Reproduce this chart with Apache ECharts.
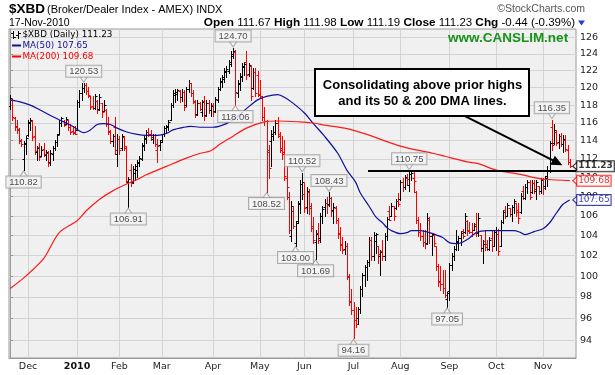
<!DOCTYPE html>
<html>
<head>
<meta charset="utf-8">
<title>$XBD Broker/Dealer Index</title>
<script src="https://cdn.jsdelivr.net/npm/echarts@6/dist/echarts.min.js"></script>
<style>
html,body{margin:0;padding:0;background:#ffffff;}
#chart{width:615px;height:375px;}
</style>
</head>
<body>
<div id="chart"></div>
<script>
// ---------------- categories (trading days) ----------------
const months = ['2009-11','2009-12','2010-01','2010-02','2010-03','2010-04','2010-05','2010-06','2010-07','2010-08','2010-09','2010-10','2010-11'];
const monthTickLabels = ['', 'Dec', '2010', 'Feb', 'Mar', 'Apr', 'May', 'Jun', 'Jul', 'Aug', 'Sep', 'Oct', 'Nov'];
const tradingDays = [
  [18,19,20,23,24,25,27,30],
  [1,2,3,4,7,8,9,10,11,14,15,16,17,18,21,22,23,24,28,29,30,31],
  [4,5,6,7,8,11,12,13,14,15,19,20,21,22,25,26,27,28,29],
  [1,2,3,4,5,8,9,10,11,12,16,17,18,19,22,23,24,25,26],
  [1,2,3,4,5,8,9,10,11,12,15,16,17,18,19,22,23,24,25,26,29,30,31],
  [1,5,6,7,8,9,12,13,14,15,16,19,20,21,22,23,26,27,28,29,30],
  [3,4,5,6,7,10,11,12,13,14,17,18,19,20,21,24,25,26,27,28],
  [1,2,3,4,7,8,9,10,11,14,15,16,17,18,21,22,23,24,25,28,29,30],
  [1,2,6,7,8,9,12,13,14,15,16,19,20,21,22,23,26,27,28,29,30],
  [2,3,4,5,6,9,10,11,12,13,16,17,18,19,20,23,24,25,26,27,30,31],
  [1,2,3,7,8,9,10,13,14,15,16,17,20,21,22,23,24,27,28,29,30],
  [1,4,5,6,7,8,11,12,13,14,15,18,19,20,21,22,25,26,27,28,29],
  [1,2,3,4,5,8,9,10,11,12,15,16,17]
];

// ---------------- daily OHLC ($XBD) ----------------
const open = [
117.9,118.6,116.5,115.6,115.3,114.1,112.0,113.6,114.6,116.1,
116.2,114.5,112.8,113.3,112.3,113.1,112.4,112.7,111.7,112.6,
113.2,113.9,114.8,116.0,116.2,115.9,116.3,115.5,115.1,115.0,
115.2,118.3,119.4,120.0,120.3,119.6,119.0,117.9,117.7,118.5,
117.5,118.2,117.3,117.4,115.9,115.0,114.0,115.5,112.5,114.2,
113.2,114.4,113.2,109.5,110.8,109.5,110.5,110.8,111.6,112.0,
113.4,114.2,115.0,114.8,114.2,114.6,113.0,113.5,114.1,114.7,
115.4,115.5,116.3,118.0,119.2,119.3,119.6,118.9,119.5,118.0,
119.8,120.5,119.4,118.4,117.0,118.2,117.2,118.5,116.9,118.2,
117.4,118.0,117.3,118.6,119.9,120.7,121.0,121.9,122.0,122.8,
123.8,124.2,119.4,120.4,121.2,122.4,123.0,121.6,122.6,120.0,
121.8,121.5,119.3,118.8,116.6,116.2,112.8,114.0,114.5,115.0,
116.0,114.5,113.0,112.8,110.0,108.0,104.0,106.5,103.3,105.5,
107.3,109.3,108.3,106.9,108.5,106.8,105.0,103.4,104.3,103.8,
106.0,106.9,107.3,107.2,107.9,106.6,106.8,105.6,104.3,103.2,
102.7,103.0,99.9,97.6,96.8,95.8,96.0,96.9,98.8,100.1,
100.9,101.4,103.6,102.0,103.5,103.0,102.0,102.5,102.0,104.0,
106.5,106.0,107.0,106.8,107.5,107.8,109.5,109.0,110.0,109.2,
110.4,110.0,108.5,105.6,104.4,104.0,103.4,103.3,105.6,104.0,
104.1,103.0,101.0,99.5,99.2,98.9,97.8,98.6,101.1,102.0,
102.7,103.5,103.8,104.5,104.4,105.5,104.6,104.4,104.6,105.2,
104.3,104.1,102.8,103.5,103.2,102.7,103.8,103.0,104.4,104.2,
103.0,105.4,106.6,106.0,106.8,106.2,106.9,107.3,106.6,106.4,
108.6,107.9,109.0,109.5,108.5,109.4,108.6,109.1,108.6,109.9,
109.1,110.2,110.8,115.5,113.8,115.0,113.9,114.5,113.6,114.1,
113.0,111.67];
const high = [
119.2,118.7,116.7,116.3,115.4,114.2,114.0,114.5,116.3,116.5,
116.3,115.6,113.4,113.7,113.4,113.7,113.0,112.9,113.0,113.4,
114.1,114.8,116.3,116.7,116.3,116.7,116.3,115.9,115.6,115.6,
118.6,119.7,120.5,120.53,120.5,120.1,119.0,119.0,119.3,118.6,
119.3,118.2,118.6,117.5,116.7,115.2,114.8,116.7,114.8,114.5,
114.8,114.5,113.4,110.1,111.5,111.2,111.5,111.9,112.3,113.7,
114.5,115.2,115.4,115.2,114.8,114.8,114.2,114.1,114.8,115.6,
115.8,116.3,118.2,119.7,119.8,119.9,119.7,119.8,119.7,120.1,
120.9,120.6,119.7,118.6,118.6,118.4,118.6,119.0,118.6,118.6,
118.2,118.2,118.9,120.1,121.1,121.5,122.3,122.5,123.3,124.3,
124.70,124.5,120.9,121.7,122.9,123.0,124.3,122.9,122.6,122.3,
122.3,122.0,120.9,119.0,117.8,116.3,113.5,115.2,115.6,116.3,
116.7,115.0,114.5,114.1,111.2,108.5,107.5,107.0,105.5,107.5,
109.8,110.52,109.4,109.0,108.8,107.3,105.9,104.6,105.3,106.3,
107.0,107.7,108.0,108.43,108.0,107.3,107.0,105.8,104.9,103.9,
103.5,103.3,100.2,98.8,97.5,97.1,97.1,99.0,100.3,101.1,
101.6,103.9,103.9,104.4,104.3,103.0,102.6,103.6,104.3,105.9,
107.0,107.3,107.0,107.7,108.4,109.8,110.0,110.3,110.4,110.75,
110.7,110.6,108.6,105.9,105.3,104.6,104.6,106.3,105.9,104.3,
104.2,103.0,101.2,101.0,100.6,100.6,98.5,101.3,102.3,103.0,
104.6,104.0,104.5,104.7,106.3,105.6,105.4,105.3,105.3,106.3,
106.3,104.1,103.6,104.6,103.6,103.9,104.6,104.6,104.9,104.7,
105.6,106.6,107.0,107.3,106.8,107.1,107.7,107.3,107.3,108.4,
109.1,109.3,109.8,109.8,109.8,109.8,109.8,109.1,110.0,110.0,
110.2,111.2,114.0,116.35,115.9,115.2,114.8,114.9,114.6,114.6,
113.5,111.98];
const low = [
117.6,116.3,115.2,114.9,113.7,113.4,110.82,112.6,114.5,115.2,
114.1,112.6,111.9,111.9,112.3,112.3,111.9,111.2,111.3,111.9,
113.0,113.4,114.8,115.6,115.6,115.9,115.2,114.8,114.8,114.7,
115.2,117.8,118.6,119.5,119.3,118.9,117.5,117.6,117.5,117.1,
117.4,116.7,117.3,115.6,114.8,113.7,113.4,112.6,111.2,112.6,
113.0,113.0,109.5,106.91,109.1,109.4,109.8,110.1,111.2,111.9,
113.0,113.7,114.5,114.1,113.7,113.4,111.7,113.0,113.9,114.5,
114.9,115.2,116.3,117.8,118.4,118.6,118.4,118.5,117.4,117.9,
119.5,119.1,118.2,116.6,116.9,117.4,116.8,116.3,116.8,117.1,
116.8,116.8,117.2,118.3,119.7,120.1,120.7,121.3,121.7,122.5,
123.5,118.06,118.9,119.7,120.8,121.5,121.0,121.4,118.6,119.8,
119.0,119.0,118.9,116.3,115.8,108.52,110.0,111.2,114.1,114.8,
114.4,112.8,112.0,109.8,107.7,104.3,103.5,104.8,103.00,105.3,
106.3,107.7,106.4,106.3,106.2,104.5,103.3,101.69,103.3,103.4,
105.3,106.0,106.3,107.0,106.0,105.3,105.3,103.8,102.6,102.3,
102.2,99.7,97.2,96.4,94.16,95.2,95.5,96.5,98.1,99.0,
99.65,101.0,101.6,101.6,102.3,101.3,100.1,101.6,101.6,103.6,
105.6,106.0,105.6,106.7,107.0,107.6,108.6,108.8,109.2,108.6,
109.8,108.5,105.3,104.0,103.6,103.0,102.8,103.2,103.3,102.1,
103.0,100.6,99.0,98.7,98.4,98.0,97.05,97.75,100.6,101.6,
102.6,102.6,103.1,103.8,104.3,104.1,104.3,104.0,104.6,104.0,
104.0,102.5,101.3,102.6,102.6,102.6,102.5,103.0,102.6,102.1,
103.0,105.3,105.8,106.0,106.0,105.5,106.3,106.0,105.3,106.3,
107.7,107.7,108.4,107.7,108.4,108.4,107.7,108.3,108.4,108.3,
108.8,109.1,110.6,113.0,113.6,113.5,113.2,113.4,112.8,112.9,
111.5,111.19];
const close = [
118.8,116.6,115.5,115.2,114.0,113.6,113.8,114.3,116.0,116.3,
114.4,112.9,113.2,112.2,113.0,112.5,112.8,111.6,112.7,113.2,
113.9,114.6,116.0,116.5,115.8,116.4,115.5,115.0,114.9,114.8,
118.4,119.4,120.0,120.3,119.6,119.2,117.8,117.7,119.0,117.4,
118.9,117.2,118.0,115.9,115.1,114.0,114.5,113.0,114.2,113.0,
114.5,113.4,109.6,109.9,109.4,110.9,111.2,111.7,112.1,113.5,
114.3,115.0,114.7,114.4,114.6,113.6,113.4,113.9,114.7,115.4,
115.6,116.1,118.0,119.4,119.5,119.7,118.9,119.5,117.8,119.8,
120.6,119.4,118.5,116.9,118.2,117.6,118.3,116.8,118.2,117.4,
117.9,117.2,118.7,119.9,120.8,121.2,122.0,122.2,123.0,124.0,
124.3,119.5,120.6,121.4,122.6,122.8,121.5,122.7,119.0,121.8,
119.4,119.2,119.1,116.6,116.2,113.0,111.0,114.8,115.0,116.0,
114.8,113.2,112.5,110.2,109.0,104.6,107.0,105.0,105.3,107.2,
109.3,109.5,106.8,108.6,107.0,104.8,103.6,104.2,103.6,106.0,
106.7,107.3,107.1,107.9,106.5,106.9,105.6,104.2,103.1,102.6,
103.0,100.0,97.5,96.8,95.8,95.5,96.9,98.8,100.1,100.9,
101.4,103.6,102.0,104.1,104.2,102.2,102.4,102.0,104.0,105.7,
105.6,107.0,106.0,107.5,107.2,109.5,109.0,110.1,109.9,110.4,
110.5,109.6,105.6,104.4,104.0,103.4,103.2,105.8,104.0,104.2,
103.3,101.0,99.4,99.2,98.9,98.2,98.4,101.1,102.0,102.7,
103.4,103.8,104.3,104.0,106.0,104.5,104.4,104.2,105.0,104.3,
105.8,102.8,103.2,102.9,102.7,103.6,103.0,104.4,104.6,102.5,
105.4,106.4,106.0,107.1,106.2,106.9,107.5,106.4,105.8,108.1,
107.9,109.0,109.5,108.0,109.4,108.8,109.5,108.6,109.7,108.9,
110.0,110.8,113.8,113.5,115.2,113.8,114.5,113.6,114.2,113.1,
111.67,111.23];

// ---------------- moving averages (read at sample days) ----------------
const ma50Idx = [0,4,9,13,19,24,28,31,33,36,39,42,45,48,52,57,61,66,70,73,78,81,85,91,97,102,106,111,115,120,123,127,132,136,141,147,151,155,157,161,164,167,169,171,175,178,180,184,188,194,197,201,205,209,214,220,226,229,231,235,239,242,245,248,251];
const ma50Val = [118.6,118.4,118.0,117.5,116.7,116.1,115.6,115.1,114.9,115.2,115.8,115.9,115.8,115.4,115.0,114.7,114.6,114.6,114.8,115.2,115.5,115.6,115.5,115.5,115.9,116.7,117.6,118.6,119.0,119.2,118.9,118.2,117.1,115.9,114.5,112.6,110.8,109.5,108.4,107.0,105.9,105.3,104.8,104.5,104.2,104.3,104.5,104.5,104.3,103.8,103.3,103.2,103.6,104.3,104.5,104.5,104.5,104.3,104.1,104.4,104.7,105.3,106.3,107.2,107.65];
const ma200Idx = [0,7,15,22,30,34,40,46,52,57,61,70,79,85,90,94,100,106,114,120,130,135,142,150,160,169,175,180,190,195,205,210,218,225,230,235,241,251];
const ma200Val = [98.8,100.0,101.7,104.3,105.5,106.5,107.7,108.6,109.3,109.8,110.3,111.2,112.1,112.6,112.9,113.6,114.5,115.4,116.1,116.2,116.1,116.0,115.7,115.4,114.7,113.9,113.4,113.1,112.6,112.3,111.7,111.5,110.8,110.5,110.3,110.0,109.8,109.68];

// ---------------- axis ticks and annotations ----------------
const yTicks = [94,96,98,100,102,104,106,108,110,112,114,116,118,120,122,124,126];
const noteIdx = [6,33,53,100,101,115,128,131,137,143,154,179,196,243];
const noteVal = [110.82,120.53,106.91,124.70,118.06,108.52,103.00,110.52,101.69,108.43,94.16,110.75,97.05,116.35];
const notePos = ['below','above','below','above','below','below','below','above','below','above','below','above','below','above'];
const priorHigh = 110.75;
const priorHighFrom = 160.5;
const calloutFrom = [204, 116.76];
const calloutTo = [245.5, 111.6];
const calloutLines = ['Consolidating above prior highs', 'and its 50 & 200 DMA lines.'];

// ---------------- build ----------------
const T = v => Math.log(v);
const dates = [], monthStart = [], monthStartLabel = [];
months.forEach((m, k) => {
  tradingDays[k].forEach((d, j) => {
    if (j === 0 && monthTickLabels[k]) { monthStart.push(dates.length); monthStartLabel.push(monthTickLabels[k]); }
    dates.push(m + '-' + String(d).padStart(2, '0'));
  });
});
const N = dates.length;
const X_MIN = -0.523, X_MAX = 253.8;
const Y_MIN = T(92.38), Y_MAX = T(127.02);

const ohlc = dates.map((d, i) => [
  i, T(open[i]), T(high[i]), T(low[i]), T(close[i]),
  i === 0 ? (close[i] >= open[i] ? 1 : 0) : (close[i] >= close[i - 1] ? 1 : 0)
]);

const lastClose = close[N - 1], prevClose = close[N - 2];
const chg = lastClose - prevClose;
const chgPct = chg / prevClose * 100;
const ma50Last = ma50Val[ma50Val.length - 1];
const ma200Last = ma200Val[ma200Val.length - 1];
const monNames = ['Jan','Feb','Mar','Apr','May','Jun','Jul','Aug','Sep','Oct','Nov','Dec'];
const lastDateParts = dates[N - 1].split('-');
const lastDateStr = lastDateParts[2] + '-' + monNames[+lastDateParts[1] - 1] + '-' + lastDateParts[0];

const SANS = 'Liberation Sans';
const VER = 'DejaVu Sans';
const NAVY = '#10109a';

const chart = echarts.init(document.getElementById('chart'), null, {renderer: 'canvas'});

function vtext(x, y, text, font, fill, align, z) {
  return {type: 'text', x: x, y: y, z: z || 10, style: {text: text, font: font, fill: fill,
    align: align || 'left', textAlign: align || 'left', verticalAlign: 'middle', textVerticalAlign: 'middle'}};
}
function seg(x1, y1, x2, y2) {
  return {type: 'line', z: 10, shape: {x1: x1, y1: y1, x2: x2, y2: y2}, style: {stroke: '#000', lineWidth: 1}};
}

const option = {
  animation: false,
  backgroundColor: '#ffffff',
  grid: {
    left: 9, right: 39, top: 29, bottom: 17,
    show: true, backgroundColor: '#f0f0f0', borderColor: '#9a9a9a', borderWidth: 1,
    containLabel: false, outerBoundsMode: 'none'
  },
  xAxis: {
    type: 'value', min: X_MIN, max: X_MAX,
    axisLine: {show: true, onZero: false, lineStyle: {color: '#9a9a9a'}},
    axisTick: {show: false, customValues: monthStart},
    axisLabel: {
      customValues: monthStart, margin: 4,
      fontFamily: VER, fontSize: 9.5, color: '#222',
      formatter: v => {
        const k = monthStart.indexOf(Math.round(v));
        const s = k >= 0 ? monthStartLabel[k] : '';
        return /^\d{4}$/.test(s) ? '{y|' + s + '}' : s;
      },
      rich: {y: {fontFamily: VER, fontSize: 9.5, fontWeight: 'bold', color: '#111'}}
    },
    splitLine: {show: true, lineStyle: {color: '#d4d4d4', width: 1}}
  },
  yAxis: {
    type: 'value', position: 'right', min: Y_MIN, max: Y_MAX,
    axisLine: {show: true, lineStyle: {color: '#9a9a9a'}},
    axisTick: {show: true, length: 3, customValues: yTicks.map(T), lineStyle: {color: '#9a9a9a'}},
    axisLabel: {
      customValues: yTicks.map(T), margin: 4,
      fontFamily: VER, fontSize: 9.5, color: '#222',
      formatter: v => String(Math.round(Math.exp(v)))
    },
    splitLine: {show: true, lineStyle: {color: '#d4d4d4', width: 1}}
  },
  series: [
    {
      type: 'custom', name: '$XBD (Daily)', data: ohlc, z: 2, clip: true, silent: true,
      encode: {x: 0, y: [1, 2, 3, 4]},
      renderItem: (params, api) => {
        const i = api.value(0);
        const h = api.coord([i, api.value(2)]);
        const l = api.coord([i, api.value(3)]);
        const o = api.coord([i, api.value(1)]);
        const c = api.coord([i, api.value(4)]);
        const col = api.value(5) ? '#000000' : '#ff0000';
        const x = Math.round(h[0]) + 0.5;
        const oy = Math.round(o[1]) + 0.5, cy = Math.round(c[1]) + 0.5;
        return {
          type: 'group',
          children: [
            {type: 'line', shape: {x1: x, y1: Math.round(h[1]), x2: x, y2: Math.round(l[1]) + 1}, style: {stroke: col, lineWidth: 1}},
            {type: 'line', shape: {x1: x - 2, y1: oy, x2: x, y2: oy}, style: {stroke: col, lineWidth: 1}},
            {type: 'line', shape: {x1: x, y1: cy, x2: x + 2, y2: cy}, style: {stroke: col, lineWidth: 1}}
          ]
        };
      },
      markLine: {
        silent: true, animation: false,
        symbol: ['none', 'none'],
        label: {show: false},
        data: [
          [
            {coord: [priorHighFrom, T(priorHigh)], lineStyle: {color: '#000', width: 2, type: 'solid'}},
            {coord: [X_MAX, T(priorHigh)]}
          ],
          [
            {coord: [calloutFrom[0], T(calloutFrom[1])], lineStyle: {color: '#000', width: 2, type: 'solid'}, symbol: 'none'},
            {coord: [calloutTo[0], T(calloutTo[1])], symbol: 'triangle', symbolSize: [10, 11]}
          ]
        ]
      }
    },
    {
      type: 'line', name: 'MA(50)', data: ma50Idx.map((i, k) => [i, T(ma50Val[k])]),
      smooth: 0.3, showSymbol: false, symbol: 'none', silent: true, z: 3,
      lineStyle: {color: NAVY, width: 1.2}
    },
    {
      type: 'line', name: 'MA(200)', data: ma200Idx.map((i, k) => [i, T(ma200Val[k])]),
      smooth: 0.3, showSymbol: false, symbol: 'none', silent: true, z: 3,
      lineStyle: {color: '#ff1a1a', width: 1.2}
    },
    {
      type: 'scatter', name: 'notes', silent: true, z: 6, clip: false,
      symbol: 'triangle', symbolSize: [8, 6],
      itemStyle: {color: '#f6f6f6', borderColor: '#9a9a9a', borderWidth: 1},
      data: noteIdx.map((i, k) => ({
        value: [i, T(noteVal[k])],
        symbolRotate: notePos[k] === 'above' ? 180 : 0,
        symbolOffset: [0, notePos[k] === 'above' ? -4 : 4],
        label: {position: notePos[k] === 'above' ? 'top' : 'bottom'}
      })),
      label: {
        show: true, distance: -1,
        formatter: p => noteVal[p.dataIndex].toFixed(2),
        fontFamily: SANS, fontSize: 9.5, color: '#222', lineHeight: 10,
        backgroundColor: '#f6f6f6', borderColor: '#9a9a9a', borderWidth: 1, padding: [1, 3, 0, 3]
      }
    },
    {
      type: 'scatter', name: 'tags', silent: true, z: 7, clip: false,
      symbol: 'path://M10,0 L0,5 L10,10 Z', symbolSize: [5, 9], symbolOffset: [5.5, 0],
      data: [
        {value: [N - 1, T(lastClose)], itemStyle: {color: '#fff', borderColor: '#000', borderWidth: 1},
         label: {formatter: lastClose.toFixed(2), color: '#000', fontWeight: 'bold', borderColor: '#000'}},
        {value: [N - 1, T(ma200Last)], itemStyle: {color: '#fff', borderColor: '#ff0000', borderWidth: 1},
         label: {formatter: ma200Last.toFixed(2), color: '#d80000', borderColor: '#ff0000'}},
        {value: [N - 1, T(ma50Last)], itemStyle: {color: '#fff', borderColor: NAVY, borderWidth: 1},
         label: {formatter: ma50Last.toFixed(2), color: NAVY, borderColor: NAVY}}
      ],
      label: {
        show: true, position: 'right', distance: -1,
        fontFamily: VER, fontSize: 9, lineHeight: 9,
        backgroundColor: '#fff', borderWidth: 1, padding: [1, 1, 0, 1]
      }
    }
  ],
  graphic: {
    elements: [
      vtext(9, 9, '$XBD', 'bold 13.5px "' + SANS + '"', '#000'),
      vtext(47, 9.5, '(Broker/Dealer Index - AMEX) INDX', '11px "' + SANS + '"', '#000'),
      vtext(585, 9.5, '\u00A9StockCharts.com', '10.5px "' + SANS + '"', '#555', 'right'),
      vtext(9, 23, lastDateStr, '10.5px "' + SANS + '"', '#000'),
      {type: 'text', x: 575, y: 23, z: 10, style: {
        text: '{b|Open} ' + open[N-1].toFixed(2) + ' {b|High} ' + high[N-1].toFixed(2) + ' {b|Low} ' + low[N-1].toFixed(2) +
              ' {b|Close} ' + lastClose.toFixed(2) + ' {b|Chg} ' + chg.toFixed(2) + ' (' + chgPct.toFixed(2) + '%)',
        font: '11.5px "' + SANS + '"', fill: '#000', align: 'right', textAlign: 'right', verticalAlign: 'middle', textVerticalAlign: 'middle',
        rich: {b: {fontFamily: SANS, fontSize: 11.8, fontWeight: 'bold', fill: '#000'}}
      }},
      {type: 'polygon', z: 10, shape: {points: [[578, 20.5], [585, 20.5], [581.5, 25.5]]}, style: {fill: '#1f3fd6'}},
      // legend icon (mini OHLC bars)
      seg(13.5, 31, 13.5, 39), seg(11, 33.5, 13.5, 33.5), seg(13.5, 37.5, 16, 37.5),
      seg(18.5, 31, 18.5, 39), seg(16, 35.5, 18.5, 35.5), seg(18.5, 33.5, 21, 33.5),
      vtext(22.5, 35, '$XBD (Daily) ' + lastClose.toFixed(2), '8.8px "' + VER + '"', '#000'),
      {type: 'rect', z: 10, shape: {x: 12, y: 44.5, width: 9, height: 2}, style: {fill: NAVY}},
      vtext(22.5, 45.8, 'MA(50) ' + ma50Last.toFixed(2), '8.8px "' + VER + '"', NAVY),
      {type: 'rect', z: 10, shape: {x: 12, y: 55.5, width: 9, height: 2}, style: {fill: '#ff0000'}},
      vtext(22.5, 56.8, 'MA(200) ' + ma200Last.toFixed(2), '8.8px "' + VER + '"', '#ff0000'),
      vtext(508, 38.5, 'www.CANSLIM.net', 'bold 13.5px "' + SANS + '"', '#17921a', 'center'),
      {type: 'rect', z: 20, shape: {x: 315, y: 69, width: 214, height: 47}, style: {fill: '#ffffff', stroke: '#000', lineWidth: 2}},
      vtext(422.5, 85, calloutLines[0], 'bold 13px "' + SANS + '"', '#000', 'center', 21),
      vtext(422.5, 101.5, calloutLines[1], 'bold 13px "' + SANS + '"', '#000', 'center', 21)
    ]
  }
};
chart.setOption(option);
</script>
</body>
</html>
